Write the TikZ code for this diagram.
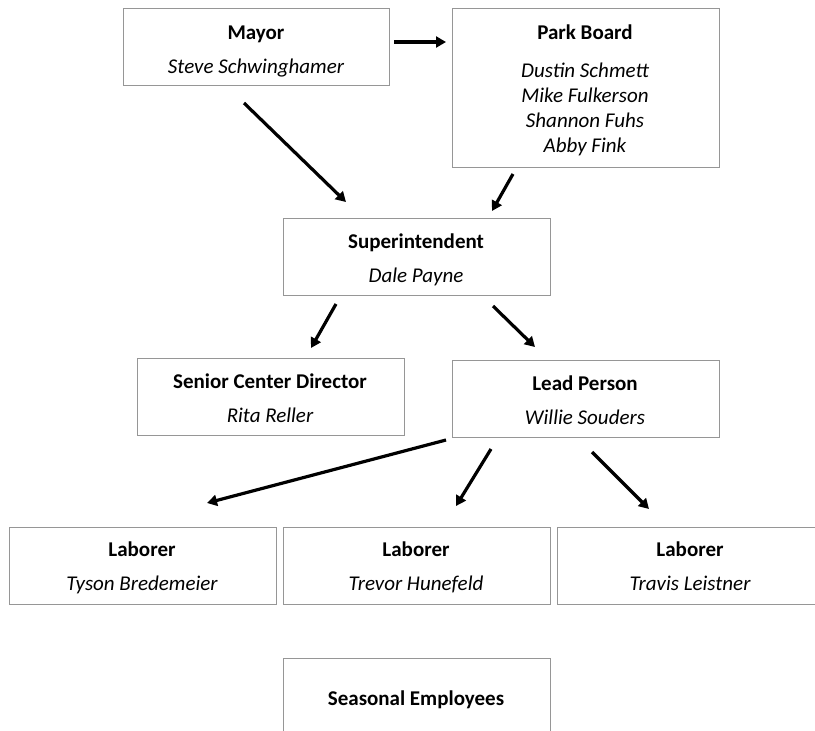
\documentclass[tikz,border=0pt]{standalone}
\usepackage{fontspec}
\setmainfont{Carlito}
\usetikzlibrary{arrows.meta}
\definecolor{boxgray}{RGB}{150,150,150}
\begin{document}
\begin{tikzpicture}[x=1pt,y=-1pt,
  box/.style={draw=boxgray, line width=1pt, fill=white, minimum width=267pt, minimum height=77pt, inner sep=0pt, outer sep=0pt, anchor=north west},
  ttl/.style={font=\fontsize{21}{25}\selectfont\bfseries, inner sep=0pt, anchor=base},
  nm/.style={font=\fontsize{21}{25}\selectfont\itshape, inner sep=0pt, anchor=base},
  arr/.style={line width=3.2pt, -{Triangle[length=10pt,width=11pt]}}]
\useasboundingbox (0,0) rectangle (815,731);
\clip (0,0) rectangle (815,731);

% boxes
\node[box, minimum width=266pt] (mayor) at (123,8) {};
\node[box, minimum height=159pt] (park) at (452,8) {};
\node[box] (super) at (283,218) {};
\node[box] (senior) at (137,358) {};
\node[box] (lead) at (452,360) {};
\node[box] (lab1) at (9,527) {};
\node[box] (lab2) at (283,527) {};
\node[box] (lab3) at (557,527) {};
\node[box, minimum height=110pt] (seasonal) at (283,658) {};

% texts
\node[ttl] (mayorT) at (256,39) {Mayor};
\node[nm] (mayorN) at (256,73) {Steve Schwinghamer};
\node[ttl] (parkT) at (585,39) {Park Board};
\node[nm] (parkN1) at (585,77) {Dustin Schmett};
\node[nm] (parkN2) at (585,102) {Mike Fulkerson};
\node[nm] (parkN3) at (585,127) {Shannon Fuhs};
\node[nm] (parkN4) at (585,152) {Abby Fink};
\node[ttl] (superT) at (416,248) {Superintendent};
\node[nm] (superN) at (416,282) {Dale Payne};
\node[ttl] (seniorT) at (270,388) {Senior Center Director};
\node[nm] (seniorN) at (270,422) {Rita Reller};
\node[ttl] (leadT) at (585,390) {Lead Person};
\node[nm] (leadN) at (585,424) {Willie Souders};
\node[ttl] (lab1T) at (142,556) {Laborer};
\node[nm] (lab1N) at (142,590) {Tyson Bredemeier};
\node[ttl] (lab2T) at (416,556) {Laborer};
\node[nm] (lab2N) at (416,590) {Trevor Hunefeld};
\node[ttl] (lab3T) at (690,556) {Laborer};
\node[nm] (lab3N) at (690,590) {Travis Leistner};
\node[ttl] (seasonalT) at (416,705) {Seasonal Employees};

% arrow end points
\coordinate (a1s) at (394,42);  \coordinate (a1e) at (446,42);
\coordinate (a2s) at (244,103); \coordinate (a2e) at (346,202);
\coordinate (a3s) at (513,174); \coordinate (a3e) at (492,211);
\coordinate (a4s) at (336,304); \coordinate (a4e) at (311,348);
\coordinate (a5s) at (493,306); \coordinate (a5e) at (535,347);
\coordinate (a6s) at (446,440); \coordinate (a6e) at (207,503);
\coordinate (a7s) at (491,449); \coordinate (a7e) at (456,506);
\coordinate (a8s) at (592,452); \coordinate (a8e) at (649,509);

\draw[arr] (a1s) -- (a1e);
\draw[arr] (a2s) -- (a2e);
\draw[arr] (a3s) -- (a3e);
\draw[arr] (a4s) -- (a4e);
\draw[arr] (a5s) -- (a5e);
\draw[arr] (a6s) -- (a6e);
\draw[arr] (a7s) -- (a7e);
\draw[arr] (a8s) -- (a8e);
\end{tikzpicture}
\end{document}
